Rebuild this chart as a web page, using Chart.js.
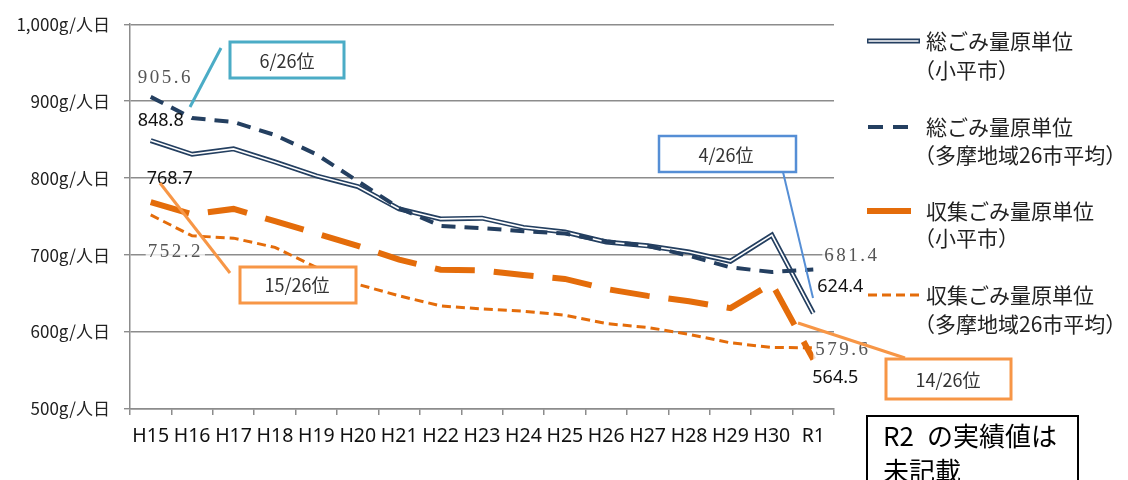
<!DOCTYPE html>
<html lang="ja">
<head>
<meta charset="utf-8">
<title>ごみ量原単位の推移</title>
<script src="https://cdn.jsdelivr.net/npm/chart.js@4.4.1/dist/chart.umd.min.js"></script>
<style>
  html, body { margin: 0; padding: 0; background: #fff; }
  #wrap { position: relative; width: 1128px; height: 480px; }
</style>
</head>
<body>
<div id="wrap"><canvas id="gomiChart"></canvas></div>
<script>
// 年度
var categories = ['H15', 'H16', 'H17', 'H18', 'H19', 'H20', 'H21', 'H22', 'H23',
                  'H24', 'H25', 'H26', 'H27', 'H28', 'H29', 'H30', 'R1'];

// 総ごみ量原単位（小平市）
var kodairaTotal = [848.8, 831, 838, 821, 803, 789, 760, 747, 748, 736, 730, 717, 712, 704, 692, 726, 624.4];
// 総ごみ量原単位（多摩地域26市平均）
var tamaTotal = [905.6, 878, 873, 856, 831, 796, 761, 738, 735, 731, 728, 718, 712, 699, 684, 678, 681.4];
// 収集ごみ量原単位（小平市）
var kodairaCollect = [768.7, 753, 760, 744, 728, 712, 694, 681, 680, 674, 669, 656, 647, 640, 631, 663, 564.5];
// 収集ごみ量原単位（多摩地域26市平均）
var tamaCollect = [752.2, 725, 722, 710, 684, 662, 647, 634, 630, 627, 622, 611, 606, 597, 586, 580, 579.6];

var yTicks = [500, 600, 700, 800, 900, 1000];

var NAVY = '#243f60';
var ORANGE = '#e46c0a';
var JP = '"Noto Sans CJK JP", "Noto Sans", sans-serif';

function tickLabel(v) {
    return (v === 1000 ? '1,000' : String(v)) + 'g/人日';
}

function drawBox(ctx, x, y, w, h, color, lw) {
    ctx.save();
    ctx.fillStyle = '#fff';
    ctx.fillRect(x, y, w, h);
    ctx.strokeStyle = color;
    ctx.lineWidth = lw;
    ctx.strokeRect(x, y, w, h);
    ctx.restore();
}

function drawLine(ctx, x1, y1, x2, y2, color, lw) {
    ctx.save();
    ctx.strokeStyle = color;
    ctx.lineWidth = lw;
    ctx.beginPath();
    ctx.moveTo(x1, y1);
    ctx.lineTo(x2, y2);
    ctx.stroke();
    ctx.restore();
}

function drawText(ctx, text, x, y, font, color, align) {
    ctx.save();
    ctx.font = font;
    ctx.fillStyle = color;
    ctx.textAlign = align || 'left';
    ctx.textBaseline = 'middle';
    ctx.fillText(text, x, y);
    ctx.restore();
}

// 値ラベル（データ点からの相対位置）
function valueLabel(ctx, chart, dsIndex, i, dx, dy, style) {
    var pt = chart.getDatasetMeta(dsIndex).data[i];
    var data = chart.data.datasets[dsIndex].data[i];
    var text = data.toFixed(1);
    var x = pt.x + dx, y = pt.y + dy;
    ctx.save();
    if (style === 'serif') {
        ctx.font = '19px "Liberation Serif", "DejaVu Serif", serif';
        ctx.letterSpacing = '2.5px';
    } else {
        ctx.font = '18px "Noto Sans", sans-serif';
    }
    var w = ctx.measureText(text).width;
    if (style === 'serif') {
        ctx.fillStyle = 'rgba(255,255,255,0.75)';
        ctx.fillRect(x - 2, y - 10, w + 4, 20);
    }
    ctx.fillStyle = style === 'serif' ? '#555' : '#111';
    ctx.textAlign = 'left';
    ctx.textBaseline = 'middle';
    ctx.fillText(text, x, y);
    ctx.restore();
}

var decorations = {
    id: 'decorations',
    afterDraw: function(chart) {
        var ctx = chart.ctx;
        var last = categories.length - 1;

        // 値ラベル
        valueLabel(ctx, chart, 0, 0, -13, -19, 'serif');
        valueLabel(ctx, chart, 1, 0, -13, -20, 'sans');
        valueLabel(ctx, chart, 3, 0, -4, -23, 'sans');
        valueLabel(ctx, chart, 4, 0, -3, 37, 'serif');
        valueLabel(ctx, chart, 0, last, 11, -13, 'serif');
        valueLabel(ctx, chart, 1, last, 4, -26, 'sans');
        valueLabel(ctx, chart, 4, last, 2, 2, 'serif');
        valueLabel(ctx, chart, 3, last, -1, 19, 'sans');

        // 順位の吹き出し
        var rankFont = '18px ' + JP;
        drawLine(ctx, 221, 48, 190, 107, '#4bacc6', 3);
        drawBox(ctx, 230, 42, 114, 36, '#4bacc6', 3);
        drawText(ctx, '6/26位', 287, 61, rankFont, '#333', 'center');

        drawLine(ctx, 783, 172, 813, 298, '#558ed5', 2);
        drawBox(ctx, 659, 136, 137, 36, '#558ed5', 2.5);
        drawText(ctx, '4/26位', 726, 155, rankFont, '#333', 'center');

        drawLine(ctx, 160, 183, 230, 273, '#f79646', 3);
        drawBox(ctx, 240, 267, 116, 36, '#f79646', 3);
        drawText(ctx, '15/26位', 297, 285, rankFont, '#333', 'center');

        drawLine(ctx, 798, 323, 905, 358, '#f79646', 3);
        drawBox(ctx, 886, 359, 125, 40, '#f79646', 3);
        drawText(ctx, '14/26位', 948, 380, rankFont, '#333', 'center');

        // 凡例
        var lx = 867, tx = 924, legFont = '21px ' + JP;
        ctx.save();
        ctx.lineCap = 'butt';
        ctx.strokeStyle = NAVY; ctx.lineWidth = 5;
        ctx.beginPath(); ctx.moveTo(lx, 41); ctx.lineTo(lx + 53, 41); ctx.stroke();
        ctx.strokeStyle = '#fff'; ctx.lineWidth = 1.6;
        ctx.beginPath(); ctx.moveTo(lx + 1.5, 41); ctx.lineTo(lx + 51.5, 41); ctx.stroke();

        ctx.strokeStyle = NAVY; ctx.lineWidth = 4; ctx.setLineDash([15, 10]);
        ctx.beginPath(); ctx.moveTo(lx + 1, 127); ctx.lineTo(lx + 41, 127); ctx.stroke();

        ctx.strokeStyle = ORANGE; ctx.lineWidth = 6; ctx.setLineDash([]);
        ctx.beginPath(); ctx.moveTo(lx, 211); ctx.lineTo(lx + 44, 211); ctx.stroke();

        ctx.lineWidth = 3; ctx.setLineDash([9, 5]);
        ctx.beginPath(); ctx.moveTo(lx + 1, 295); ctx.lineTo(lx + 55, 295); ctx.stroke();
        ctx.restore();

        drawText(ctx, '総ごみ量原単位', tx + 2, 41, legFont, '#222');
        drawText(ctx, '（小平市）', tx - 10, 70, legFont, '#222');
        drawText(ctx, '総ごみ量原単位', tx + 2, 127, legFont, '#222');
        drawText(ctx, '（多摩地域26市平均）', tx - 10, 155, legFont, '#222');
        drawText(ctx, '収集ごみ量原単位', tx + 2, 211, legFont, '#222');
        drawText(ctx, '（小平市）', tx - 10, 238, legFont, '#222');
        drawText(ctx, '収集ごみ量原単位', tx + 2, 295, legFont, '#222');
        drawText(ctx, '（多摩地域26市平均）', tx - 10, 324, legFont, '#222');

        // R2 注記
        drawBox(ctx, 867, 416, 211, 80, '#000', 2);
        drawText(ctx, 'R2', 883, 436, '26px ' + JP, '#000');
        drawText(ctx, 'の実績値は', 927, 436, '26px ' + JP, '#000');
        drawText(ctx, '未記載', 883, 471, '26px ' + JP, '#000');
    }
};

var ctx = document.getElementById('gomiChart').getContext('2d');
var gomiChart = new Chart(ctx, {
    type: 'line',
    data: {
        labels: categories,
        datasets: [{
            label: '総ごみ量原単位（多摩地域26市平均）',
            data: tamaTotal,
            borderColor: NAVY,
            borderWidth: 4,
            borderDash: [14, 9],
            order: 0
        }, {
            label: '総ごみ量原単位（小平市）',
            data: kodairaTotal,
            borderColor: '#fff',
            borderWidth: 1.6,
            order: 1
        }, {
            label: '総ごみ量原単位（小平市）外枠',
            data: kodairaTotal,
            borderColor: NAVY,
            borderWidth: 5,
            order: 2
        }, {
            label: '収集ごみ量原単位（小平市）',
            data: kodairaCollect,
            borderColor: ORANGE,
            borderWidth: 6,
            borderDash: [40, 19],
            order: 3
        }, {
            label: '収集ごみ量原単位（多摩地域26市平均）',
            data: tamaCollect,
            borderColor: ORANGE,
            borderWidth: 3,
            borderDash: [9, 5],
            order: 4
        }]
    },
    options: {
        responsive: true,
        maintainAspectRatio: false,
        animation: false,
        layout: { padding: { left: 0, right: 294, top: 23, bottom: 0 } },
        elements: {
            point: { radius: 0, hoverRadius: 0 },
            line: { tension: 0, fill: false }
        },
        plugins: {
            legend: { display: false },
            tooltip: { enabled: false }
        },
        scales: {
            x: {
                offset: true,
                grid: {
                    offset: true,
                    drawOnChartArea: false,
                    drawTicks: true,
                    tickLength: 6,
                    color: '#8c8c8c',
                    lineWidth: 1.5
                },
                border: { color: '#8c8c8c', width: 1.5 },
                ticks: {
                    padding: 10,
                    color: '#111',
                    font: { family: '"Noto Sans", sans-serif', size: 19.5 },
                    maxRotation: 0,
                    autoSkip: false
                },
                afterFit: function(scale) { scale.height = 71; }
            },
            y: {
                min: 500,
                max: 1000,
                afterBuildTicks: function(scale) {
                    scale.ticks = yTicks.map(function(v) { return { value: v }; });
                },
                grid: {
                    color: '#8c8c8c',
                    lineWidth: 1.4,
                    tickLength: 6
                },
                border: { color: '#8c8c8c', width: 1.5 },
                ticks: {
                    padding: 14,
                    color: '#222',
                    font: { family: JP, size: 17 },
                    callback: function(v) { return tickLabel(v); }
                },
                afterFit: function(scale) { scale.width = 130; }
            }
        }
    },
    plugins: [decorations]
});
</script>
</body>
</html>
